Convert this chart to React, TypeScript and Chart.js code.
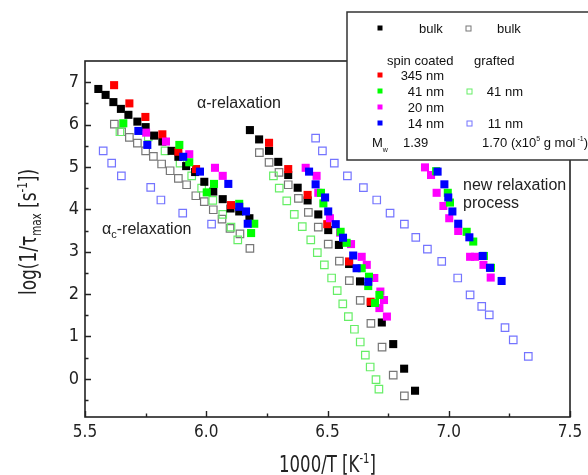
import React, { useEffect, useRef } from "react";
import { Chart, registerables } from "chart.js";

Chart.register(...registerables);

type P = [number, number];

// ---- axis ticks ----
const xTicks = [5.5, 6.0, 6.5, 7.0, 7.5];
const xMinor = [5.75, 6.25, 6.75, 7.25];
const yTicks = [0, 1, 2, 3, 4, 5, 6, 7];
const yMinor = [-0.5, 0.5, 1.5, 2.5, 3.5, 4.5, 5.5, 6.5];

// ---- series (1000/T [1/K], log(1/tau_max)) ----
const bulkSpin: P[] = [
  [5.555, 6.84], [5.585, 6.7], [5.617, 6.53], [5.648, 6.37], [5.679, 6.23], [5.716, 6.07],
  [5.75, 5.94], [5.785, 5.74], [5.819, 5.6], [5.857, 5.38], [5.885, 5.24], [5.917, 5.02],
  [5.954, 4.88], [5.992, 4.65], [6.029, 4.42], [6.068, 4.24], [6.1, 4.02], [6.136, 3.95], [6.178, 3.79],
  [6.18, 5.87], [6.218, 5.65], [6.259, 5.38], [6.297, 5.12], [6.338, 4.81], [6.377, 4.51],
  [6.418, 4.21], [6.462, 3.88], [6.503, 3.51], [6.547, 3.16], [6.589, 2.71], [6.634, 2.3],
  [6.679, 1.79], [6.724, 1.33], [6.771, 0.82], [6.816, 0.24], [6.861, -0.28],
];
const spin345: P[] = [
  [5.62, 6.93], [5.683, 6.5], [5.749, 6.18], [5.819, 5.77], [5.885, 5.36], [5.958, 4.95], [6.102, 4.1],
  [6.259, 5.57], [6.338, 4.95], [6.418, 4.34], [6.499, 3.65], [6.589, 2.77], [6.678, 1.82],
];
const spin41: P[] = [
  [5.658, 6.03], [5.889, 5.52], [5.93, 5.11], [6.002, 4.4], [6.032, 4.6], [6.136, 4.13], [6.198, 3.66], [6.185, 3.44],
  [6.473, 4.39], [6.483, 4.14], [6.554, 3.47], [6.579, 3.21], [6.641, 2.61], [6.671, 2.41], [6.668, 2.19],
  [6.714, 1.98], [6.696, 1.79],
  [6.948, 4.9], [6.996, 4.39], [7.005, 4.16], [7.074, 3.47], [7.101, 3.24], [7.145, 2.9], [7.174, 2.62],
];
const spin20: P[] = [
  [5.752, 5.81], [5.834, 5.6], [5.93, 5.3], [6.036, 4.98], [6.068, 4.79],
  [6.41, 4.98], [6.455, 4.79], [6.462, 4.39], [6.51, 3.79], [6.552, 3.45], [6.597, 3.18], [6.641, 2.88],
  [6.662, 2.69], [6.693, 2.38], [6.718, 2.06], [6.733, 1.86], [6.714, 1.67], [6.745, 1.47],
  [6.902, 4.99], [6.927, 4.81], [6.95, 4.39], [6.978, 4.08], [7.002, 3.79], [7.039, 3.49], [7.088, 2.88],
  [7.108, 2.88], [7.143, 2.69], [7.173, 2.39],
];
const spin14: P[] = [
  [5.72, 5.85], [5.757, 5.52], [5.905, 5.24], [5.974, 4.89], [6.091, 4.6], [6.136, 4.06], [6.164, 3.95], [6.171, 3.66],
  [6.424, 4.89], [6.451, 4.59], [6.49, 4.28], [6.503, 3.95], [6.534, 3.65], [6.564, 3.33], [6.606, 2.91],
  [6.62, 2.61], [6.668, 2.29],
  [6.954, 4.89], [6.982, 4.59], [6.998, 4.28], [7.015, 3.95], [7.039, 3.66], [7.085, 3.34], [7.14, 2.9],
  [7.17, 2.62], [7.218, 2.31],
];
const bulkGraft: P[] = [
  [5.621, 6.01], [5.651, 5.83], [5.683, 5.7], [5.716, 5.56], [5.75, 5.38], [5.782, 5.25], [5.816, 5.07],
  [5.851, 4.91], [5.885, 4.73], [5.919, 4.58], [5.957, 4.32], [5.992, 4.18], [6.029, 3.99], [6.065, 3.77],
  [6.098, 3.55], [6.139, 3.42], [6.18, 3.08],
  [6.219, 5.34], [6.259, 5.11], [6.3, 4.87], [6.338, 4.58], [6.38, 4.26], [6.421, 3.93], [6.462, 3.58],
  [6.503, 3.18], [6.549, 2.78], [6.59, 2.32], [6.635, 1.85], [6.679, 1.31], [6.725, 0.75], [6.771, 0.09],
  [6.817, -0.4],
];
const graft41: P[] = [
  [5.644, 5.83], [5.761, 5.71], [5.83, 5.38], [5.892, 5.09], [5.94, 4.79], [5.981, 4.5], [6.027, 4.21],
  [6.068, 3.88], [6.102, 3.58], [6.13, 3.28],
  [6.277, 4.79], [6.301, 4.5], [6.332, 4.2], [6.363, 3.88], [6.396, 3.59], [6.431, 3.28], [6.458, 2.98],
  [6.487, 2.69], [6.517, 2.38], [6.54, 2.08], [6.563, 1.77], [6.586, 1.47], [6.611, 1.17], [6.635, 0.87],
  [6.656, 0.56], [6.676, 0.28], [6.7, -0.02], [6.712, -0.24],
];
const graft11: P[] = [
  [5.575, 5.38], [5.61, 5.09], [5.65, 4.79], [5.771, 4.52], [5.813, 4.22], [5.903, 3.91], [6.022, 3.65],
  [6.451, 5.68], [6.479, 5.38], [6.528, 5.09], [6.582, 4.79], [6.648, 4.51], [6.703, 4.22], [6.758, 3.91],
  [6.817, 3.65], [6.864, 3.34], [6.912, 3.06], [6.971, 2.77], [7.037, 2.38], [7.088, 1.98], [7.136, 1.71],
  [7.167, 1.51], [7.232, 1.21], [7.266, 0.92], [7.328, 0.53],
];

const C_BLACK = "#000000";
const C_RED = "#ff0000";
const C_GREEN = "#00ff00";
const C_MAGENTA = "#ff00ff";
const C_BLUE = "#0000ff";
const C_GRAY = "#777777";
const C_LGREEN = "#66ee66";
const C_LBLUE = "#7474ff";

const AXIS_FONT = "'Liberation Sans Narrow', 'DejaVu Sans Condensed', 'Liberation Sans', sans-serif";
const TEXT_FONT = "'Liberation Sans', Arial, sans-serif";
const INK = "#222222";

type Seg = { t: string; size: number; dy?: number; font?: string };

function drawRich(
  ctx: CanvasRenderingContext2D,
  segs: Seg[],
  x: number,
  y: number,
  align: "left" | "center",
  sx = 1
) {
  let total = 0;
  const widths = segs.map((s) => {
    ctx.font = `${s.size}px ${s.font || TEXT_FONT}`;
    const w = ctx.measureText(s.t).width;
    total += w;
    return w;
  });
  ctx.save();
  ctx.translate(x, y);
  ctx.scale(sx, 1);
  let cx = align === "center" ? -total / 2 : 0;
  ctx.textAlign = "left";
  ctx.textBaseline = "alphabetic";
  segs.forEach((s, i) => {
    ctx.font = `${s.size}px ${s.font || TEXT_FONT}`;
    ctx.fillText(s.t, cx, s.dy || 0);
    cx += widths[i];
  });
  ctx.restore();
}

const decoPlugin = {
  id: "deco",
  afterDatasetsDraw(chart: any) {
    const { ctx, chartArea: a, scales } = chart;
    const xs = scales.x;
    const ys = scales.y;
    ctx.save();
    // frame
    ctx.strokeStyle = INK;
    ctx.lineWidth = 1.6;
    ctx.strokeRect(a.left, a.top, a.right - a.left, a.bottom - a.top);
    // inward ticks
    ctx.lineWidth = 1.4;
    ctx.beginPath();
    xTicks.forEach((v) => {
      const px = Math.round(xs.getPixelForValue(v)) + 0.5;
      ctx.moveTo(px, a.bottom);
      ctx.lineTo(px, a.bottom - 6);
    });
    xMinor.forEach((v) => {
      const px = Math.round(xs.getPixelForValue(v)) + 0.5;
      ctx.moveTo(px, a.bottom);
      ctx.lineTo(px, a.bottom - 3.5);
    });
    yTicks.forEach((v) => {
      const py = Math.round(ys.getPixelForValue(v)) + 0.5;
      ctx.moveTo(a.left, py);
      ctx.lineTo(a.left + 6, py);
    });
    yMinor.forEach((v) => {
      const py = Math.round(ys.getPixelForValue(v)) + 0.5;
      ctx.moveTo(a.left, py);
      ctx.lineTo(a.left + 3.5, py);
    });
    ctx.stroke();

    ctx.fillStyle = INK;
    // axis titles
    const cxMid = (a.left + a.right) / 2;
    drawRich(
      ctx,
      [
        { t: "1000/T [K", size: 23, font: AXIS_FONT },
        { t: "-1", size: 14, dy: -9, font: AXIS_FONT },
        { t: "]", size: 23, font: AXIS_FONT },
      ],
      cxMid,
      471.5,
      "center",
      0.8
    );
    ctx.save();
    ctx.translate(36, 232);
    ctx.rotate(-Math.PI / 2);
    drawRich(
      ctx,
      [
        { t: "log(1/τ", size: 23, font: AXIS_FONT },
        { t: "max", size: 14, dy: 5, font: AXIS_FONT },
        { t: " [s", size: 23, font: AXIS_FONT },
        { t: "-1", size: 14, dy: -9, font: AXIS_FONT },
        { t: "])", size: 23, font: AXIS_FONT },
      ],
      0,
      0,
      "center",
      0.82
    );
    ctx.restore();

    // annotations
    drawRich(ctx, [{ t: "α-relaxation", size: 16 }], 197, 107.5, "left");
    drawRich(
      ctx,
      [
        { t: "α", size: 16 },
        { t: "c", size: 11, dy: 4 },
        { t: "-relaxation", size: 16 },
      ],
      102,
      233.5,
      "left"
    );
    drawRich(ctx, [{ t: "new relaxation", size: 16 }], 463, 189.5, "left");
    drawRich(ctx, [{ t: "process", size: 16 }], 463, 207.5, "left");

    // legend box
    ctx.fillStyle = "#ffffff";
    ctx.fillRect(347, 12, 260, 148);
    ctx.strokeStyle = "#333333";
    ctx.lineWidth = 1.5;
    ctx.strokeRect(347, 12, 260, 148);

    const sq = (x: number, y: number, color: string, open: boolean) => {
      if (open) {
        ctx.strokeStyle = color;
        ctx.lineWidth = 1;
        ctx.strokeRect(x - 2, y - 2, 5, 5);
      } else {
        ctx.fillStyle = color;
        ctx.fillRect(x - 2.5, y - 2.5, 5, 5);
      }
    };
    sq(380, 28, C_BLACK, false);
    sq(468, 28, C_GRAY, true);
    sq(380, 75, C_RED, false);
    sq(380, 91, C_GREEN, false);
    sq(469, 91, C_LGREEN, true);
    sq(380, 107, C_MAGENTA, false);
    sq(380, 123, C_BLUE, false);
    sq(469, 123, C_LBLUE, true);

    ctx.fillStyle = "#111111";
    const T = 13;
    drawRich(ctx, [{ t: "bulk", size: T }], 419, 32.5, "left");
    drawRich(ctx, [{ t: "bulk", size: T }], 497, 32.5, "left");
    drawRich(ctx, [{ t: "spin coated", size: T }], 387, 64.5, "left");
    drawRich(ctx, [{ t: "grafted", size: T }], 474, 64.5, "left");
    ctx.textAlign = "right";
    ctx.textBaseline = "alphabetic";
    ctx.font = `${T}px ${TEXT_FONT}`;
    ctx.fillText("345 nm", 444, 79.5);
    ctx.fillText("41 nm", 444, 95.5);
    ctx.fillText("20 nm", 444, 111.5);
    ctx.fillText("14 nm", 444, 127.5);
    ctx.fillText("41 nm", 523, 95.5);
    ctx.fillText("11 nm", 523, 127.5);
    drawRich(
      ctx,
      [
        { t: "M", size: T },
        { t: "w", size: 7, dy: 5 },
      ],
      372,
      146.5,
      "left"
    );
    drawRich(ctx, [{ t: "1.39", size: T }], 403, 146.5, "left");
    drawRich(
      ctx,
      [
        { t: "1.70 (x10", size: T },
        { t: "5", size: 7, dy: -6 },
        { t: " g mol", size: T },
        { t: " -1", size: 7, dy: -6 },
        { t: ")", size: T },
      ],
      482,
      146.5,
      "left"
    );
    ctx.restore();
  },
};

export default function App() {
  const ref = useRef<HTMLCanvasElement | null>(null);

  useEffect(() => {
    if (!ref.current) return;
    const toPts = (arr: P[]) => arr.map(([x, y]) => ({ x, y }));
    const filled = (label: string, arr: P[], color: string) => ({
      label,
      data: toPts(arr),
      pointStyle: "rect",
      pointRadius: 5.7,
      pointHoverRadius: 5.7,
      backgroundColor: color,
      borderColor: color,
      borderWidth: 0,
      showLine: false,
    });
    const open = (label: string, arr: P[], color: string) => ({
      label,
      data: toPts(arr),
      pointStyle: "rect",
      pointRadius: 5.3,
      pointHoverRadius: 5.3,
      backgroundColor: "rgba(255,255,255,0)",
      borderColor: color,
      borderWidth: 1.2,
      showLine: false,
    });

    const chart = new Chart(ref.current, {
      type: "scatter",
      data: {
        datasets: [
          filled("spin coated 14 nm", spin14, C_BLUE),
          filled("spin coated 41 nm", spin41, C_GREEN),
          filled("spin coated 20 nm", spin20, C_MAGENTA),
          filled("spin coated 345 nm", spin345, C_RED),
          filled("bulk (1.39)", bulkSpin, C_BLACK),
          open("grafted 41 nm", graft41, C_LGREEN),
          open("grafted 11 nm", graft11, C_LBLUE),
          open("bulk (1.70)", bulkGraft, C_GRAY),
        ] as any,
      },
      options: {
        responsive: false,
        animation: false,
        events: [],
        layout: { padding: { top: 61, right: 18, left: 0, bottom: 0 } },
        plugins: { legend: { display: false }, tooltip: { enabled: false }, title: { display: false } },
        scales: {
          x: {
            type: "linear",
            min: 5.5,
            max: 7.5,
            grid: { display: false, drawTicks: false },
            border: { display: false },
            afterBuildTicks: (s: any) => {
              s.ticks = xTicks.map((v) => ({ value: v }));
            },
            afterFit: (s: any) => {
              s.height = 58;
            },
            ticks: {
              padding: 5,
              color: INK,
              font: { family: AXIS_FONT, size: 17 },
              maxRotation: 0,
              autoSkip: false,
              callback: (v: any) => Number(v).toFixed(1),
            },
          },
          y: {
            type: "linear",
            min: -0.9,
            max: 7.5,
            grid: { display: false, drawTicks: false },
            border: { display: false },
            afterBuildTicks: (s: any) => {
              s.ticks = yTicks.map((v) => ({ value: v }));
            },
            afterFit: (s: any) => {
              s.width = 85;
            },
            ticks: {
              padding: 6,
              color: INK,
              font: { family: AXIS_FONT, size: 18 },
              autoSkip: false,
              callback: (v: any) => String(v),
            },
          },
        },
      },
      plugins: [decoPlugin],
    } as any);

    return () => chart.destroy();
  }, []);

  return (
    <div style={{ position: "absolute", left: 0, top: 0, width: 588, height: 475, background: "#fff" }}>
      <canvas ref={ref} width={588} height={475} style={{ width: 588, height: 475, display: "block" }} />
    </div>
  );
}
